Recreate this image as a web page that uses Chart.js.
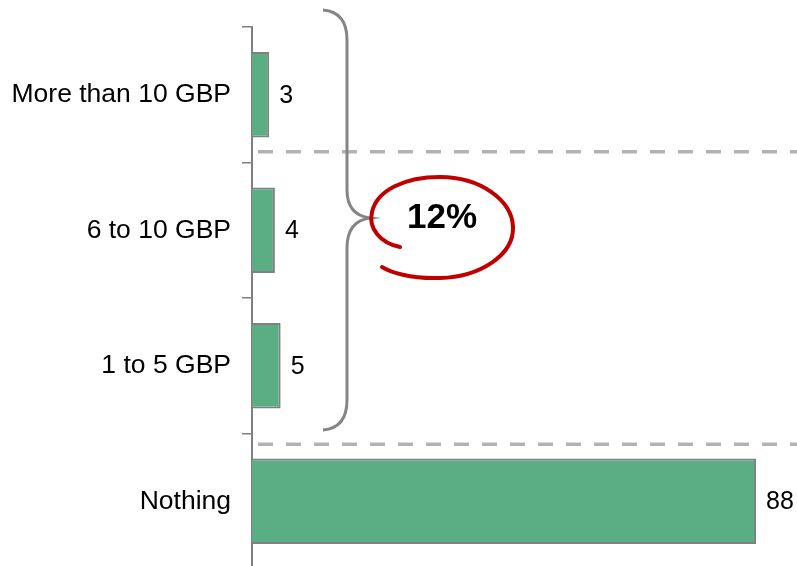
<!DOCTYPE html>
<html>
<head>
<meta charset="utf-8">
<script src="https://cdn.jsdelivr.net/npm/chart.js@4.4.1/dist/chart.umd.min.js"></script>
<style>
  html, body { margin: 0; padding: 0; background: #ffffff; overflow: hidden; }
  canvas { display: block; }
</style>
</head>
<body>
<canvas id="c" width="797" height="569" style="width:797px;height:569px"></canvas>
<script>
const categories = ["More than 10 GBP", "6 to 10 GBP", "1 to 5 GBP", "Nothing"];
const values = [3, 4, 5, 88];
const groupLabel = "12%";

const FONT = "'Liberation Sans', Arial, Helvetica, sans-serif";

const overlay = {
  id: 'overlay',
  afterDatasetsDraw(chart) {
    const ctx = chart.ctx;
    const area = chart.chartArea;
    const meta = chart.getDatasetMeta(0);
    ctx.save();
    // value labels
    ctx.fillStyle = '#000';
    ctx.font = '25px ' + FONT;
    ctx.textAlign = 'left';
    ctx.textBaseline = 'middle';
    meta.data.forEach((bar, i) => {
      ctx.fillText(String(values[i]), bar.x + 10, bar.y + 1);
    });
    // dashed separators
    const ys = chart.scales.y;
    const step = ys.getPixelForValue(1) - ys.getPixelForValue(0);
    const sepY = [ys.getPixelForValue(0) + step * 0.42, ys.getPixelForValue(2) + step * 0.58];
    ctx.strokeStyle = '#b3b3b3';
    ctx.lineWidth = 3.5;
    ctx.setLineDash([15, 13]);
    sepY.forEach(y => {
      ctx.beginPath();
      ctx.moveTo(area.left + 6, y);
      ctx.lineTo(chart.width, y);
      ctx.stroke();
    });
    ctx.setLineDash([]);
    // brace
    const bx = area.left + 95;
    ctx.strokeStyle = '#858585';
    ctx.lineWidth = 3;
    ctx.beginPath();
    ctx.moveTo(bx - 24, 10);
    ctx.quadraticCurveTo(bx, 12, bx, 40);
    ctx.lineTo(bx, 190);
    ctx.quadraticCurveTo(bx, 215, bx + 23, 218);
    ctx.quadraticCurveTo(bx, 221, bx, 248);
    ctx.lineTo(bx, 400);
    ctx.quadraticCurveTo(bx, 428, bx - 24, 430);
    ctx.stroke();
    // red hand-drawn loop
    ctx.strokeStyle = '#c00000';
    ctx.lineWidth = 4;
    ctx.lineCap = 'round';
    ctx.beginPath();
    ctx.moveTo(400, 247);
    ctx.bezierCurveTo(380, 243, 368, 228, 372, 212);
    ctx.bezierCurveTo(377, 190, 405, 177, 440, 177);
    ctx.bezierCurveTo(480, 177, 512, 200, 513, 227);
    ctx.bezierCurveTo(514, 255, 480, 277, 440, 278);
    ctx.bezierCurveTo(410, 279, 390, 272, 382, 267);
    ctx.stroke();
    // group label
    ctx.fillStyle = '#000';
    ctx.font = 'bold 35px ' + FONT;
    ctx.textAlign = 'center';
    ctx.textBaseline = 'alphabetic';
    ctx.fillText(groupLabel, 442, 228);
    ctx.restore();
  }
};

new Chart(document.getElementById('c'), {
  type: 'bar',
  data: {
    labels: categories,
    datasets: [{
      data: values,
      backgroundColor: '#5bad84',
      borderColor: '#808080',
      borderWidth: 2,
      barPercentage: 0.63,
      categoryPercentage: 1.0
    }]
  },
  options: {
    indexAxis: 'y',
    responsive: false,
    maintainAspectRatio: false,
    devicePixelRatio: 1,
    animation: false,
    layout: { padding: { top: 27, right: 0, bottom: 0, left: 0 } },
    plugins: { legend: { display: false }, tooltip: { enabled: false } },
    scales: {
      x: { display: false, min: 0, max: 95.16 },
      y: {
        afterFit(scale) {
          scale.width = 252;
          scale.paddingTop = 0;
          scale.paddingBottom = 0;
        },
        grid: {
          display: true,
          drawOnChartArea: false,
          drawTicks: true,
          tickLength: 10,
          color: '#808080',
          lineWidth: 1.5,
          offset: true
        },
        border: { display: true, color: '#808080', width: 2 },
        ticks: {
          color: '#000',
          font: { family: FONT, size: 26.5 },
          padding: 11
        }
      }
    }
  },
  plugins: [overlay]
});
</script>
</body>
</html>
